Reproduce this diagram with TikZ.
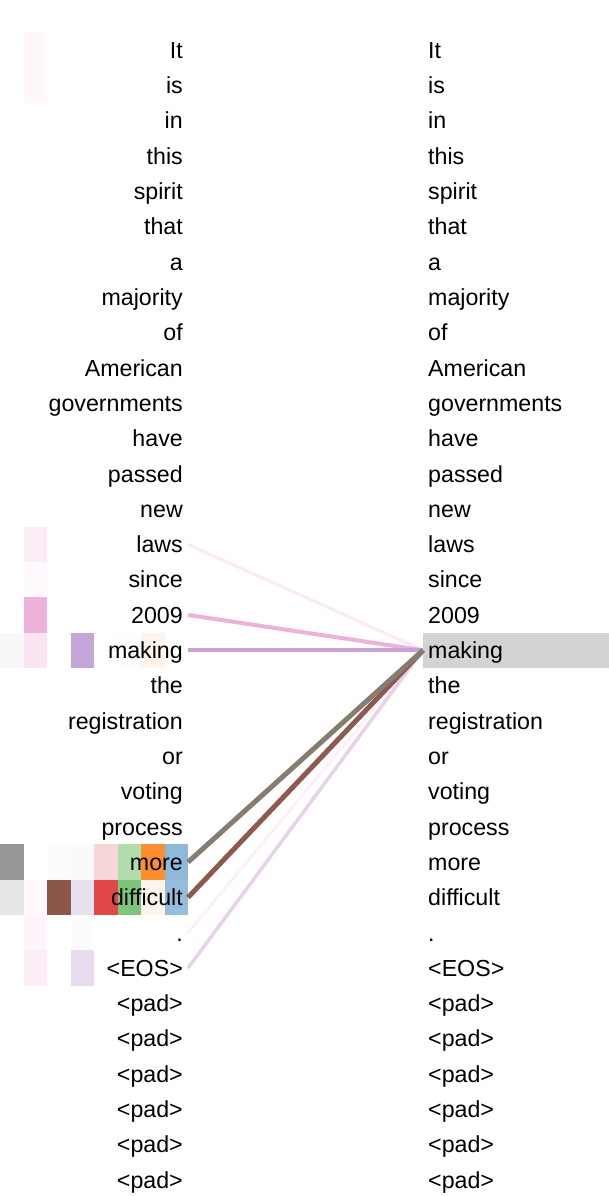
\documentclass[tikz,border=0pt]{standalone}
\usepackage{fontspec}
\setmainfont{Liberation Sans}
\definecolor{hl}{HTML}{D3D3D3}
\definecolor{pkA}{HTML}{FEF8FC}
\definecolor{pkB}{HTML}{FCECF6}
\definecolor{pkC}{HTML}{FEF9FC}
\definecolor{pkD}{HTML}{EDB3DA}
\definecolor{pkE}{HTML}{FBE5F2}
\definecolor{pkF}{HTML}{FDF5FB}
\definecolor{pkG}{HTML}{FCEDF6}
\definecolor{pkH}{HTML}{FFF9FB}
\definecolor{gyA}{HTML}{F8F8F8}
\definecolor{gyB}{HTML}{FCFCFC}
\definecolor{gyC}{HTML}{FAFAFD}
\definecolor{gyD}{HTML}{979797}
\definecolor{gyE}{HTML}{E6E6E6}
\definecolor{puA}{HTML}{C3A7D8}
\definecolor{puB}{HTML}{E8E0F1}
\definecolor{puC}{HTML}{E7DCEF}
\definecolor{orA}{HTML}{FEF4EA}
\definecolor{orB}{HTML}{FD8D2D}
\definecolor{orC}{HTML}{FFF4EC}
\definecolor{rdA}{HTML}{F7D6D7}
\definecolor{rdB}{HTML}{DF474B}
\definecolor{gnA}{HTML}{B1DCAB}
\definecolor{gnB}{HTML}{7BC67B}
\definecolor{blA}{HTML}{8FB9DA}
\definecolor{blB}{HTML}{95BEDE}
\definecolor{brA}{HTML}{8C564B}
\definecolor{lnLaws}{HTML}{FBEAF4}
\definecolor{lnNine}{HTML}{EEB2D9}
\definecolor{lnMake}{HTML}{C9A2D3}
\definecolor{lnMore}{HTML}{867C70}
\definecolor{lnDiff}{HTML}{8C5A4F}
\definecolor{lnDot}{HTML}{FDF0F7}
\definecolor{lnEos}{HTML}{E8D2EA}
\begin{document}
\begin{tikzpicture}[x=1pt,y=-1pt,
  word/.style={inner sep=0pt, inner xsep=5pt, text height=25.6pt, text depth=9pt,
    font=\fontsize{23.2}{28}\selectfont},
  attn/.style={line width=#1}]
\useasboundingbox (0,0) rectangle (609,1196);
% heat-map cells
\foreach \c/\r/\col in {1/0/pkA,1/1/pkA,1/14/pkB,1/15/pkC,1/16/pkD,
  0/17/gyA,1/17/pkE,3/17/puA,5/17/gyB,6/17/orA,
  0/23/gyD,2/23/gyB,3/23/gyC,4/23/rdA,5/23/gnA,6/23/orB,7/23/blA,
  0/24/gyE,1/24/pkH,2/24/brA,3/24/puB,4/24/rdB,5/24/gnB,6/24/orC,7/24/blB,
  1/25/pkF,3/25/gyB,1/26/pkG,3/26/puC}
  \fill[\col] ({23.5*\c},{50+35.31*\r-17.65}) rectangle ++(23.5,35.31);
% highlight of the selected word
\node[fill=hl, inner sep=0pt, minimum width=186pt, minimum height=35.3pt, anchor=west]
  (hlbox) at (423,{50+35.31*17}) {};
% words
\foreach \w [count=\i from 0] in {It,is,in,this,spirit,that,a,majority,of,American,governments,have,passed,new,laws,since,2009,making,the,registration,or,voting,process,more,difficult,.,{<EOS>},{<pad>},{<pad>},{<pad>},{<pad>},{<pad>},{<pad>}}{
  \node[word, anchor=east] (L\i) at (188,{50+35.31*\i}) {\w};
  \node[word, anchor=west] (R\i) at (423,{50+35.31*\i}) {\w};
}
% attention connectors
\draw[attn=3pt, lnLaws] (L14.east) -- (R17.west);
\draw[attn=3pt, lnDot] (L25.east) -- (R17.west);
\draw[attn=3.5pt, lnEos] (L26.east) -- (R17.west);
\draw[attn=4pt, lnNine] (L16.east) -- (R17.west);
\draw[attn=4pt, lnMake] (L17.east) -- (R17.west);
\draw[attn=5pt, lnDiff] (L24.east) -- (R17.west);
\draw[attn=5pt, lnMore] (L23.east) -- (R17.west);
\end{tikzpicture}
\end{document}
